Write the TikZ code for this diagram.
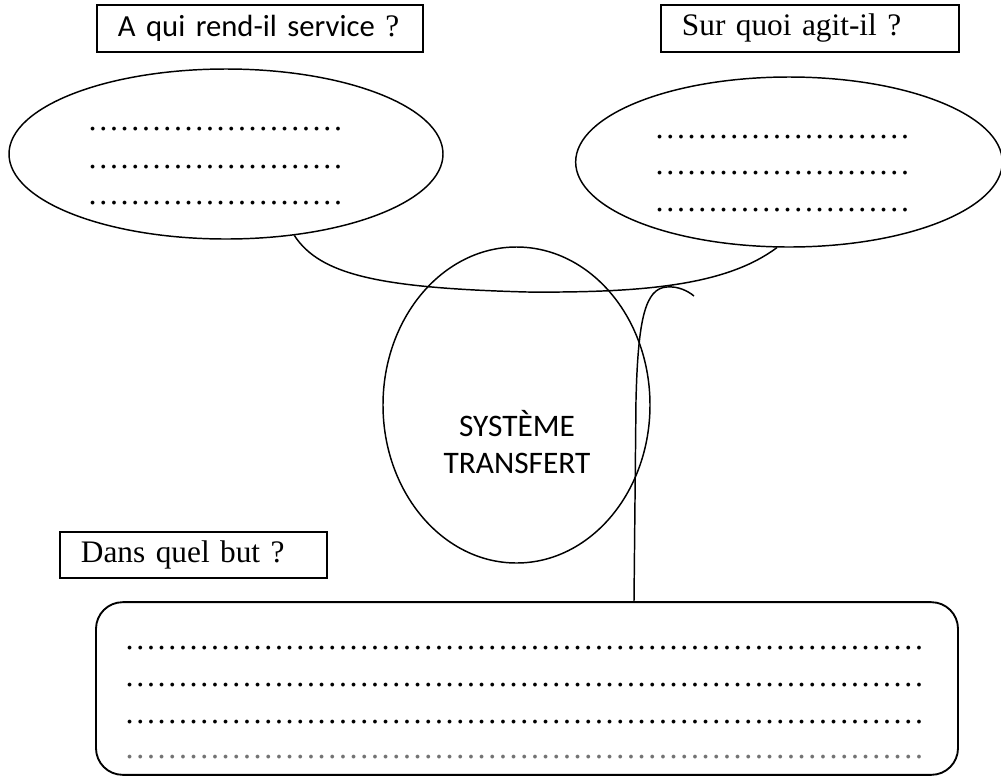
\documentclass[tikz,border=0pt]{standalone}
\usepackage{fontspec}
\setmainfont{Liberation Serif}
\newfontfamily\calibri{Carlito}
\usetikzlibrary{shapes.geometric}
\newcommand\myrep[1]{\ifnum#1>0 …\expandafter\myrep\expandafter{\the\numexpr#1-1\relax}\fi}
\begin{document}
\begin{tikzpicture}[x=0.75pt,y=-0.75pt,
  qbox/.style={draw,line width=1.4pt,inner xsep=15.75pt,inner ysep=0pt,minimum height=35pt,align=left,anchor=west,font=\fontsize{23.5}{28}\selectfont},
  bubble/.style={draw,ellipse,line width=1.1pt,inner sep=0pt},
  dotline/.style={inner sep=0pt,anchor=base west,font=\fontsize{24}{28}\selectfont},
  link/.style={line width=1.1pt}]
\useasboundingbox (0,0) rectangle (1001,776);

% question boxes
\node[qbox,text width=213pt] (q1) at (96,28.5) {\mbox{{\calibri\fontsize{23}{28}\selectfont A qui rend-il service} ?}};
\node[qbox,text width=192pt] (q2) at (660,28.5) {Sur quoi agit-il ?};
\node[qbox,text width=168.75pt] (q3) at (59,555) {Dans quel but ?};

% bubbles
\node[bubble,minimum width=325.5pt,minimum height=127.5pt] (e1) at (226,154) {};
\node[bubble,minimum width=320pt,minimum height=127.5pt] (e2) at (789,162) {};
\node[bubble,minimum width=200.25pt,minimum height=237pt] (sys) at (516.5,405) {};
\node[align=center,font=\calibri\fontsize{23.5}{27.75}\selectfont] (systxt) at (517,442) {SYSTÈME\\TRANSFERT};

% answer box
\node[draw,line width=1.4pt,rounded corners=20pt,minimum width=646.5pt,minimum height=129.5pt,inner sep=0pt] (bot) at (527,688.5) {};

% dotted answer lines
\foreach \yy/\nm in {130/a,168/b,204/c}
  \node[dotline] (d1\nm) at (87,\yy) {\myrep{8}};
\foreach \yy/\nm in {138/a,174/b,211/c}
  \node[dotline] (d2\nm) at (654,\yy) {\myrep{8}};
\foreach \yy/\nm in {649/a,686/b,723/c}
  \node[dotline] (d3\nm) at (124,\yy) {\myrep{25}};
\node[dotline,text=black!55] (d3d) at (124,758) {\myrep{25}};

% connectors
\draw[link] (e1.-50) .. controls (320,275) and (380,288) .. (527,292)
  .. controls (650,293) and (728,284) .. (e2.-98);
\coordinate (hook) at (694,296);
\draw[link] ([xshift=80.25pt]bot.north) -- (636,400)
  .. controls (638,320) and (645,288) .. (667,287)
  .. controls (678,286) and (688,291) .. (hook);
\end{tikzpicture}
\end{document}
